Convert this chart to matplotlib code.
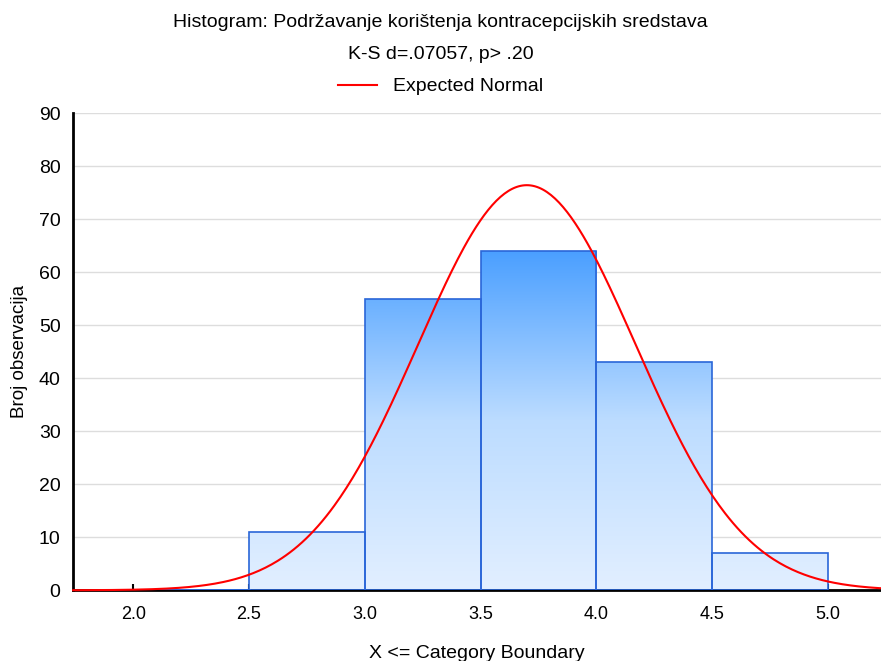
import numpy as np
import matplotlib.pyplot as plt
from matplotlib.colors import LinearSegmentedColormap

plt.rcParams['font.family'] = ['Liberation Sans', 'DejaVu Sans']

# granice kategorija i broj observacija
bin_edges = [2.0, 2.5, 3.0, 3.5, 4.0, 4.5, 5.0]
counts = [0, 11, 55, 64, 43, 7]
x_ticks = [2.0, 2.5, 3.0, 3.5, 4.0, 4.5, 5.0]
y_ticks = [0, 10, 20, 30, 40, 50, 60, 70, 80, 90]

# parametri ocekivane normalne raspodjele
mean = 3.70
sd = 0.47
n_total = sum(counts)
bin_width = 0.5


def main():
    fig = plt.figure(figsize=(8.81, 6.61), dpi=100)
    ax = fig.add_axes([0.083, 0.107, 0.917, 0.722])

    ax.set_xlim(1.74, 5.23)
    ax.set_ylim(0, 90)
    ax.set_yticks(y_ticks)
    ax.set_xticks(x_ticks)
    ax.set_xticklabels(['%.1f' % t for t in x_ticks])
    ax.grid(axis='y', color='#dddddd', linewidth=1)
    ax.set_axisbelow(True)

    # gradijent za stupce
    cmap = LinearSegmentedColormap.from_list('plava', ['#e2efff', '#bcdcff', '#4a9fff'])
    grad = np.linspace(0, 1, 256).reshape(-1, 1)

    for left, right, c in zip(bin_edges[:-1], bin_edges[1:], counts):
        bar = ax.bar(left, c, width=right - left, align='edge',
                     facecolor='none', edgecolor='#2a66d8', linewidth=1.2, zorder=3)[0]
        if c > 0:
            img = ax.imshow(grad, extent=[left, right, 0, max(counts)], origin='lower',
                            cmap=cmap, aspect='auto', zorder=2)
            img.set_clip_path(bar)
        else:
            ax.plot([left, right], [0, 0], color='#2a66d8', linewidth=2, zorder=3)

    ax.set_xlim(1.74, 5.23)
    ax.set_ylim(0, 90)

    xs = np.linspace(1.74, 5.23, 400)
    ys = n_total * bin_width / (sd * np.sqrt(2 * np.pi)) * np.exp(-(xs - mean) ** 2 / (2 * sd ** 2))
    line, = ax.plot(xs, ys, color='red', linewidth=1.5, zorder=4, clip_on=False)

    for s in ['top', 'right']:
        ax.spines[s].set_visible(False)
    for s in ['left', 'bottom']:
        ax.spines[s].set_linewidth(2)
    ax.tick_params(axis='x', direction='in', length=4, width=1.5, pad=11, labelsize=13)
    ax.tick_params(axis='y', direction='out', length=0, pad=9, labelsize=14)

    ax.set_ylabel('Broj observacija', fontsize=13.5, labelpad=8)
    ax.set_xlabel('X <= Category Boundary', fontsize=14, labelpad=16)

    fig.text(0.5, 0.966, 'Histogram: Podržavanje korištenja kontracepcijskih sredstava',
             ha='center', va='center', fontsize=14)
    fig.text(0.5, 0.917, 'K-S d=.07057, p> .20', ha='center', va='center', fontsize=14)
    fig.legend([line], ['Expected Normal'], loc='center', bbox_to_anchor=(0.5, 0.869),
               frameon=False, fontsize=14, handlelength=2.0)

    plt.savefig('out.png', dpi=100)


if __name__ == '__main__':
    main()
